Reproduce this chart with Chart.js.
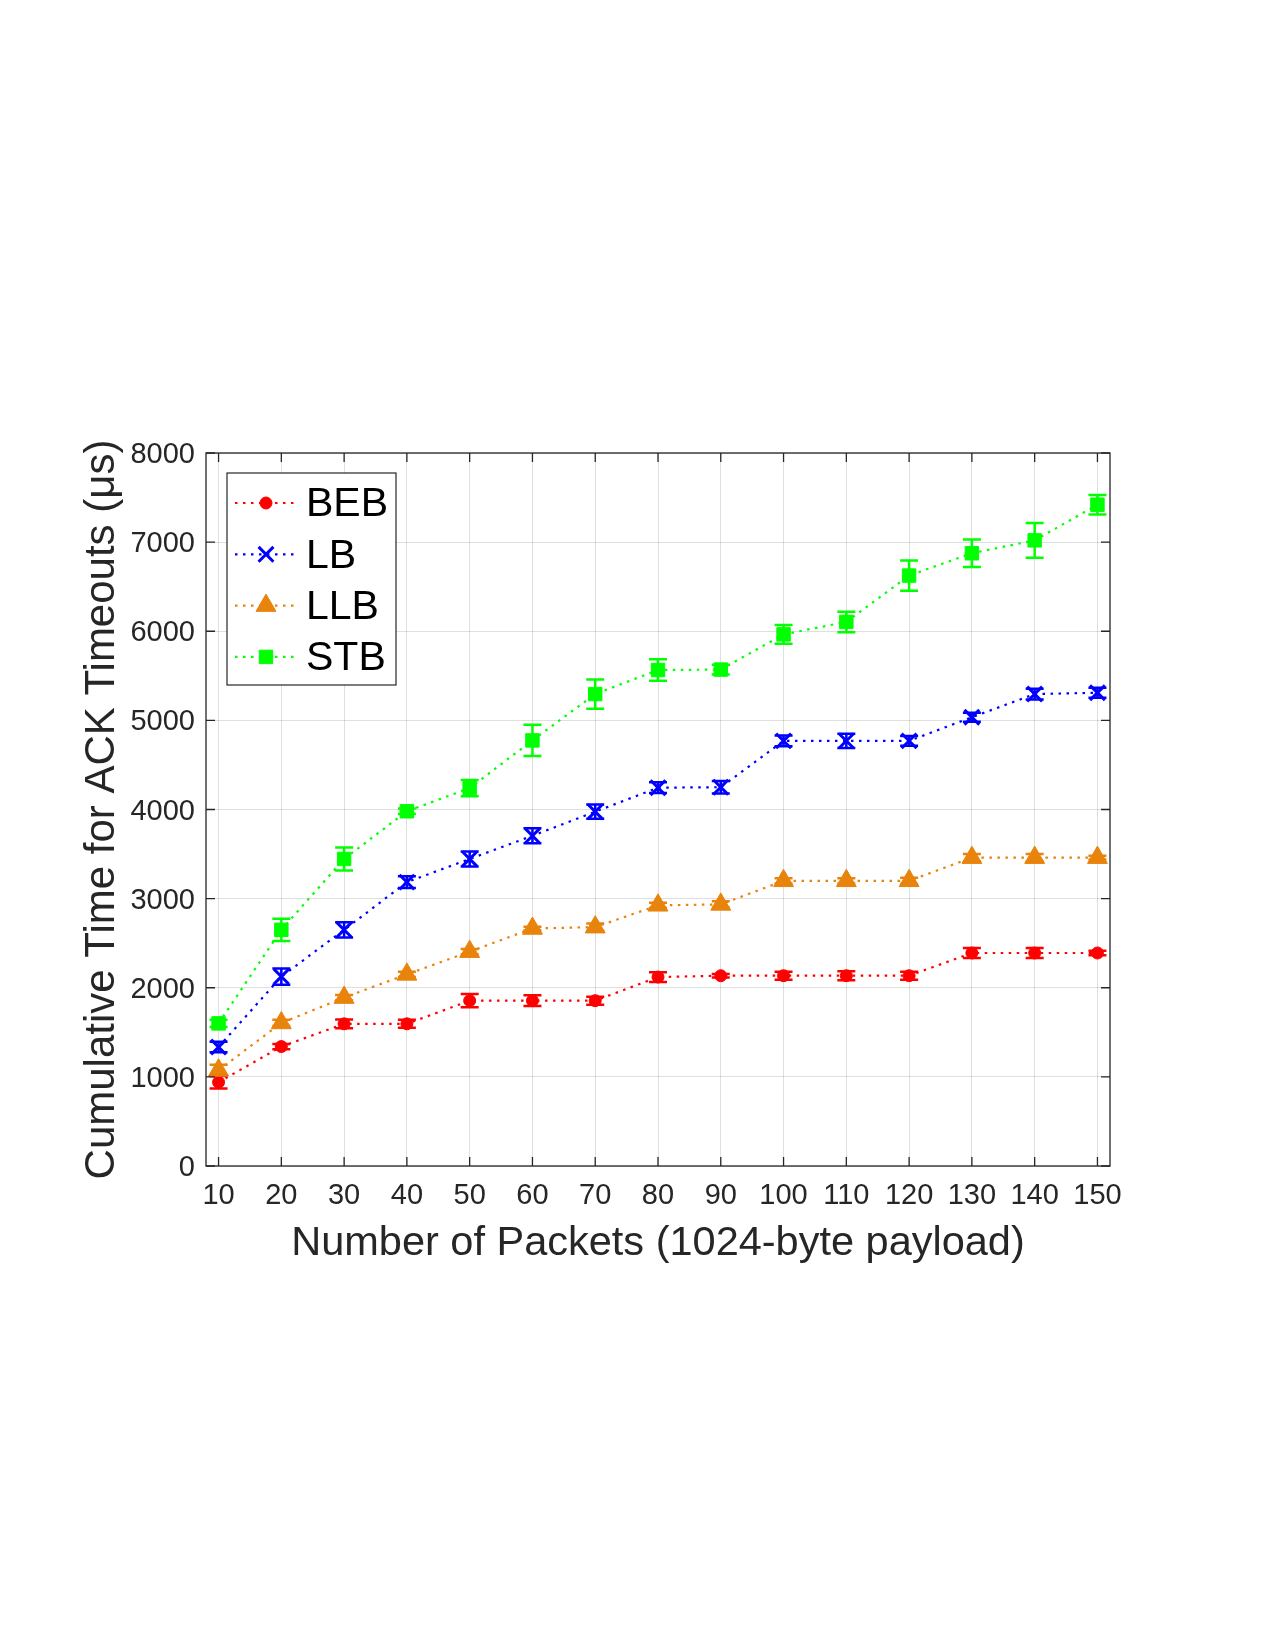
<!DOCTYPE html>
<html>
<head>
<meta charset="utf-8">
<script src="https://cdn.jsdelivr.net/npm/chart.js@4.4.0/dist/chart.umd.min.js"></script>
<style>
  html, body { margin: 0; padding: 0; background: #fff; }
</style>
</head>
<body>
<canvas id="myChart" width="1275" height="1650"></canvas>
<script>
// data
const packets = [10, 20, 30, 40, 50, 60, 70, 80, 90, 100, 110, 120, 130, 140, 150];
const yTicks = [0, 1000, 2000, 3000, 4000, 5000, 6000, 7000, 8000];

const beb = [940, 1340, 1595, 1595, 1855, 1855, 1855, 2120, 2135, 2135, 2135, 2135, 2390, 2390, 2390];
const bebErr = [70, 30, 50, 45, 75, 60, 45, 55, 20, 45, 50, 45, 55, 55, 25];

const lb = [1335, 2125, 2650, 3185, 3445, 3705, 3975, 4245, 4250, 4770, 4770, 4770, 5035, 5295, 5310];
const lbErr = [60, 90, 85, 65, 85, 85, 80, 60, 70, 60, 80, 55, 50, 60, 55];

const llb = [1075, 1605, 1890, 2150, 2405, 2665, 2680, 2925, 2935, 3200, 3200, 3200, 3460, 3460, 3460];
const llbErr = [60, 35, 30, 30, 30, 20, 40, 30, 35, 30, 30, 35, 40, 40, 20];

const stb = [1600, 2650, 3445, 3980, 4240, 4775, 5295, 5565, 5570, 5965, 6105, 6625, 6875, 7020, 7420];
const stbErr = [40, 125, 130, 30, 90, 175, 165, 120, 55, 105, 115, 170, 155, 195, 110];

const xTitle = 'Number of Packets (1024-byte payload)';
const yTitle = 'Cumulative Time for ACK Timeouts (\u03bcs)';

const family = '"Liberation Sans", Arial, Helvetica, sans-serif';
const ink = '#262626';
const gridCol = 'rgba(38,38,38,0.15)';

function makeSet(label, values, errs, color, style, radius, bw, order) {
	return {
		label: label,
		data: packets.map((p, i) => ({ x: p, y: values[i] })),
		errors: errs,
		borderColor: color,
		backgroundColor: color,
		borderWidth: 2.2,
		borderDash: [2.5, 5.5],
		pointStyle: style,
		pointRadius: radius,
		pointHoverRadius: radius,
		pointBorderWidth: bw,
		pointBackgroundColor: color,
		pointBorderColor: color,
		tension: 0,
		order: order,
	};
}

// vertical error bars with caps, placed through the chart scales
const errorBars = {
	id: 'errorBars',
	afterDatasetsDraw(chart) {
		const ctx = chart.ctx;
		const x = chart.scales.x;
		const y = chart.scales.y;
		const cap = 9;
		chart.data.datasets.forEach((ds) => {
			ctx.save();
			ctx.strokeStyle = ds.borderColor;
			ctx.lineWidth = 2.5;
			ds.data.forEach((pt, i) => {
				const px = x.getPixelForValue(pt.x);
				const top = y.getPixelForValue(pt.y + ds.errors[i]);
				const bot = y.getPixelForValue(pt.y - ds.errors[i]);
				ctx.beginPath();
				ctx.moveTo(px, top);
				ctx.lineTo(px, bot);
				ctx.moveTo(px - cap, top);
				ctx.lineTo(px + cap, top);
				ctx.moveTo(px - cap, bot);
				ctx.lineTo(px + cap, bot);
				ctx.stroke();
			});
			ctx.restore();
		});
	},
};

// box round the axes with inward tick marks on all four sides
const frame = {
	id: 'frame',
	afterDraw(chart) {
		const ctx = chart.ctx;
		const a = chart.chartArea;
		const x = chart.scales.x;
		const y = chart.scales.y;
		const tl = 9;
		ctx.save();
		ctx.strokeStyle = ink;
		ctx.lineWidth = 1.3;
		ctx.strokeRect(a.left, a.top, a.right - a.left, a.bottom - a.top);
		ctx.beginPath();
		packets.forEach((v) => {
			const px = x.getPixelForValue(v);
			ctx.moveTo(px, a.bottom);
			ctx.lineTo(px, a.bottom - tl);
			ctx.moveTo(px, a.top);
			ctx.lineTo(px, a.top + tl);
		});
		yTicks.forEach((v) => {
			const py = y.getPixelForValue(v);
			ctx.moveTo(a.left, py);
			ctx.lineTo(a.left + tl, py);
			ctx.moveTo(a.right, py);
			ctx.lineTo(a.right - tl, py);
		});
		ctx.stroke();
		ctx.restore();
	},
};

// legend box in the upper left of the plot
const boxLegend = {
	id: 'boxLegend',
	afterDraw(chart) {
		const ctx = chart.ctx;
		const a = chart.chartArea;
		const bx = a.left + 21;
		const by = a.top + 20;
		const bw = 169;
		const bh = 212;
		ctx.save();
		ctx.fillStyle = '#fff';
		ctx.fillRect(bx, by, bw, bh);
		ctx.strokeStyle = ink;
		ctx.lineWidth = 1.2;
		ctx.strokeRect(bx, by, bw, bh);
		chart.data.datasets.forEach((ds, i) => {
			const cy = by + 30 + i * 51.3;
			ctx.save();
			ctx.strokeStyle = ds.borderColor;
			ctx.lineWidth = ds.borderWidth;
			ctx.setLineDash(ds.borderDash);
			ctx.beginPath();
			ctx.moveTo(bx + 8, cy);
			ctx.lineTo(bx + 70, cy);
			ctx.stroke();
			ctx.restore();
			ctx.fillStyle = ds.pointBackgroundColor;
			ctx.strokeStyle = ds.pointBorderColor;
			ctx.lineWidth = ds.pointBorderWidth;
			Chart.helpers.drawPoint(ctx, { pointStyle: ds.pointStyle, radius: ds.pointRadius, borderWidth: ds.pointBorderWidth, rotation: 0 }, bx + 39, cy);
			ctx.fillStyle = '#000';
			ctx.font = '41px ' + family;
			ctx.textBaseline = 'middle';
			ctx.textAlign = 'left';
			ctx.fillText(ds.label, bx + 79, cy + 2);
		});
		ctx.restore();
	},
};

const ctx = document.getElementById('myChart');
const myChart = new Chart(ctx, {
	type: 'line',
	data: {
		datasets: [
			makeSet('BEB', beb, bebErr, '#ff0000', 'circle', 6, 1, 3),
			makeSet('LB', lb, lbErr, '#0000ff', 'crossRot', 10.5, 3, 2),
			makeSet('LLB', llb, llbErr, '#e8830c', 'triangle', 11.5, 1, 1),
			makeSet('STB', stb, stbErr, '#00ff00', 'rect', 9.5, 1, 0),
		],
	},
	options: {
		responsive: false,
		animation: false,
		events: [],
		layout: { padding: { left: 77, right: 165, top: 453, bottom: 382 } },
		plugins: {
			legend: { display: false },
			tooltip: { enabled: false },
		},
		scales: {
			x: {
				type: 'linear',
				min: 8,
				max: 152,
				afterBuildTicks: (s) => {
					s.ticks = packets.map((v) => ({ value: v }));
				},
				afterFit: (s) => {
					s.height = 102;
				},
				ticks: {
					color: ink,
					font: { family: family, size: 29 },
					padding: 13,
					maxRotation: 0,
					autoSkip: false,
					callback: (v) => String(v),
				},
				grid: { color: gridCol, lineWidth: 1, drawTicks: false },
				border: { display: false },
				title: {
					display: true,
					text: xTitle,
					color: ink,
					font: { family: family, size: 41.5 },
					padding: 0,
				},
			},
			y: {
				min: 0,
				max: 8000,
				afterBuildTicks: (s) => {
					s.ticks = yTicks.map((v) => ({ value: v }));
				},
				afterFit: (s) => {
					s.width = 129;
				},
				ticks: {
					color: ink,
					font: { family: family, size: 29 },
					padding: 11,
					labelOffset: 2,
					callback: (v) => String(v),
				},
				grid: { color: gridCol, lineWidth: 1, drawTicks: false },
				border: { display: false },
				title: {
					display: true,
					text: yTitle,
					color: ink,
					font: { family: family, size: 42 },
					padding: 0,
				},
			},
		},
	},
	plugins: [errorBars, frame, boxLegend],
});
</script>
</body>
</html>
